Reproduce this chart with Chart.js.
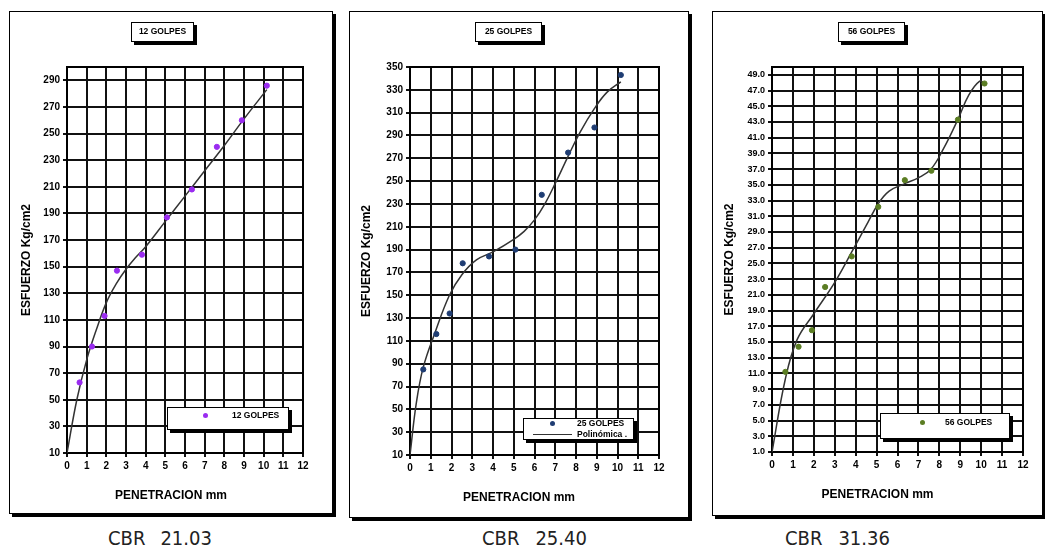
<!DOCTYPE html>
<html>
<head>
<meta charset="utf-8">
<script src="https://cdn.jsdelivr.net/npm/chart.js@4.4.1/dist/chart.umd.min.js"></script>
<style>
  body { margin: 0; background: #fff; width: 1045px; height: 549px; position: relative; overflow: hidden;
         font-family: "Liberation Sans", Arial, sans-serif; color: #000; }
  .panel { position: absolute; box-sizing: border-box; border: 1.5px solid #000; box-shadow: 3px 3px 0 #000; background: #fff; }
  canvas { position: absolute; }
  .tbox { position: absolute; box-sizing: border-box; border: 1.5px solid #000; box-shadow: 3px 3px 0 #000; background: #fff;
          font-weight: bold; font-size: 8.5px; text-align: center; line-height: 17px; white-space: nowrap; }
  .leg { position: absolute; box-sizing: border-box; border: 1.5px solid #000; box-shadow: 3px 3px 0 #000; background: #fff; }
  .txt { position: absolute; font-weight: bold; font-size: 8.5px; line-height: 10px; white-space: nowrap; }
  .dot { position: absolute; width: 5px; height: 5px; border-radius: 50%; }
  .lin { position: absolute; height: 0; border-top: 1.5px solid #333; }
  .xt { position: absolute; font-weight: bold; font-size: 12px; line-height: 14px; text-align: center; white-space: nowrap; }
  .cbr { position: absolute; font-family: "Liberation Sans Narrow", "DejaVu Sans Condensed", sans-serif; font-size: 20px;
         line-height: 20px; color: #222; white-space: nowrap; }
</style>
</head>
<body>

<div class="panel" style="left:9px;top:11px;width:324px;height:503px"></div>
<div class="panel" style="left:349px;top:11px;width:340px;height:507px"></div>
<div class="panel" style="left:712px;top:11px;width:331px;height:505px"></div>

<canvas id="c12" width="322" height="501" style="left:10px;top:12px"></canvas>
<canvas id="c25" width="337" height="504" style="left:350px;top:12px"></canvas>
<canvas id="c56" width="329" height="502" style="left:713px;top:12px"></canvas>

<div class="tbox" style="left:131px;top:22px;width:63px;height:20px">12 GOLPES</div>
<div class="tbox" style="left:475px;top:22px;width:67px;height:20px">25 GOLPES</div>
<div class="tbox" style="left:838px;top:22px;width:67px;height:20px">56 GOLPES</div>

<div class="leg" style="left:167px;top:407px;width:122px;height:23px"></div>
<div class="dot" style="left:203px;top:413px;background:#9a2cf0"></div>
<div class="txt" style="left:232px;top:410px">12 GOLPES</div>

<div class="leg" style="left:523px;top:418px;width:111px;height:22px"></div>
<div class="dot" style="left:550px;top:421px;background:#1f3d73"></div>
<div class="txt" style="left:577px;top:418px">25 GOLPES</div>
<div class="lin" style="left:533px;top:434px;width:39px"></div>
<div class="txt" style="left:577px;top:429px">Polinómica .</div>

<div class="leg" style="left:880px;top:413px;width:130px;height:26px"></div>
<div class="dot" style="left:920px;top:420px;background:#5b7d23"></div>
<div class="txt" style="left:945px;top:417px">56 GOLPES</div>

<div class="xt" style="left:9px;top:488px;width:324px">PENETRACION mm</div>
<div class="xt" style="left:349px;top:490px;width:340px">PENETRACION mm</div>
<div class="xt" style="left:712px;top:487px;width:331px">PENETRACION mm</div>

<div class="cbr" style="left:108px;top:528px">CBR<span style="margin-left:15px">21.03</span></div>
<div class="cbr" style="left:482px;top:528px">CBR<span style="margin-left:16px">25.40</span></div>
<div class="cbr" style="left:785px;top:528px">CBR<span style="margin-left:16px">31.36</span></div>

<script>
// penetracion (mm) de cada lectura
const penetracion = [0.64, 1.27, 1.91, 2.54, 3.81, 5.08, 6.35, 7.62, 8.89, 10.16];

// esfuerzos medidos (Kg/cm2)
const esfuerzo12 = [63, 90, 113, 147, 159, 187, 208, 240, 260, 286];
const esfuerzo25 = [85, 116, 134, 178, 184, 190, 238, 275, 297, 343];
const esfuerzo56 = [11.2, 14.4, 16.5, 22.0, 25.9, 32.2, 35.6, 36.8, 43.3, 47.9];

// curva de ajuste (polinomica)
const curva12X = [0, 0.5, 1, 1.5, 2, 2.5, 3, 3.5, 4, 5, 6, 7, 8, 9, 10.16];
const curva12Y = [10, 50, 80, 103, 123, 137, 148, 157, 165, 184, 203, 222, 241, 261, 283];
const curva25X = [0, 0.3, 0.64, 1.2, 1.9, 2.5, 3.2, 4, 5, 5.5, 6, 6.5, 7, 7.6, 8.2, 8.9, 9.5, 10.16];
const curva25Y = [10, 55, 87, 117, 150, 168, 181, 188, 199, 206, 216, 230, 248, 271, 293, 314, 328, 337];
const curva56X = [0, 0.63, 1.2, 2, 3, 3.8, 4.5, 5.08, 5.6, 6.3, 7, 7.6, 8.2, 8.9, 9.4, 9.93, 10.16];
const curva56Y = [1, 10.2, 15.3, 18.6, 22.6, 26.4, 29.8, 32.6, 34.2, 35.1, 35.9, 37.0, 39.6, 43.4, 46.4, 48.2, 47.9];

// etiquetas de los ejes
const ejeX = [0, 1, 2, 3, 4, 5, 6, 7, 8, 9, 10, 11, 12];
const ejeY12 = [10, 30, 50, 70, 90, 110, 130, 150, 170, 190, 210, 230, 250, 270, 290];
const ejeY25 = [10, 30, 50, 70, 90, 110, 130, 150, 170, 190, 210, 230, 250, 270, 290, 310, 330, 350];
const ejeY56 = [1, 3, 5, 7, 9, 11, 13, 15, 17, 19, 21, 23, 25, 27, 29, 31, 33, 35, 37, 39, 41, 43, 45, 47, 49];

// marco negro alrededor del area de trazado
const marco = {
    id: 'marco',
    beforeDatasetsDraw(chart) {
        const { ctx, chartArea: a } = chart;
        ctx.save();
        ctx.strokeStyle = '#000';
        ctx.lineWidth = 2;
        ctx.strokeRect(a.left, a.top, a.right - a.left, a.bottom - a.top);
        ctx.restore();
    }
};

function toXY(xs, ys) {
    return xs.map((x, i) => ({ x: x, y: ys[i] }));
}

function crearGrafico(id, esfuerzo, curvaX, curvaY, color, yMin, yMax, yTicks, dec, caja) {
    const ctx = document.getElementById(id).getContext('2d');
    return new Chart(ctx, {
        type: 'scatter',
        data: {
            datasets: [
                {
                    label: 'puntos',
                    data: toXY(penetracion, esfuerzo),
                    backgroundColor: color,
                    borderColor: color,
                    pointRadius: 2.6,
                    showLine: false
                },
                {
                    label: 'Polinómica',
                    data: toXY(curvaX, curvaY),
                    borderColor: '#333',
                    borderWidth: 1.5,
                    pointRadius: 0,
                    showLine: true,
                    tension: 0.4
                }
            ]
        },
        options: {
            responsive: false,
            animation: false,
            layout: { padding: { left: 0, top: caja.top, right: caja.right, bottom: 0 } },
            plugins: { legend: { display: false }, tooltip: { enabled: false } },
            scales: {
                x: {
                    type: 'linear',
                    min: 0,
                    max: 12,
                    afterBuildTicks: s => { s.ticks = ejeX.map(v => ({ value: v })); },
                    afterFit: s => { s.height = caja.xH; },
                    grid: { color: '#111', lineWidth: 2, tickLength: 4 },
                    border: { color: '#000', width: 2 },
                    ticks: { color: '#000', padding: 3, maxRotation: 0, font: { size: 10, weight: 'bold' } }
                },
                y: {
                    type: 'linear',
                    min: yMin,
                    max: yMax,
                    afterBuildTicks: s => { s.ticks = yTicks.map(v => ({ value: v })); },
                    afterFit: s => { s.width = caja.yW; },
                    grid: { color: '#111', lineWidth: 2, tickLength: 4 },
                    border: { color: '#000', width: 2 },
                    ticks: {
                        color: '#000',
                        padding: 3,
                        font: { size: caja.fy, weight: 'bold' },
                        callback: v => v.toFixed(dec)
                    },
                    title: {
                        display: true,
                        text: 'ESFUERZO Kg/cm2',
                        color: '#000',
                        font: { size: 12, weight: 'bold' },
                        padding: { top: 9, bottom: 0 }
                    }
                }
            }
        },
        plugins: [marco]
    });
}

crearGrafico('c12', esfuerzo12, curva12X, curva12Y, '#9a2cf0', 10, 300, ejeY12, 0,
    { top: 55, right: 29, yW: 57, xH: 60, fy: 10 });
crearGrafico('c25', esfuerzo25, curva25X, curva25Y, '#1f3d73', 10, 350, ejeY25, 0,
    { top: 55, right: 28, yW: 60, xH: 61, fy: 10 });
crearGrafico('c56', esfuerzo56, curva56X, curva56Y, '#5b7d23', 1, 50, ejeY56, 1,
    { top: 55, right: 19, yW: 59, xH: 62, fy: 9 });
</script>
</body>
</html>
